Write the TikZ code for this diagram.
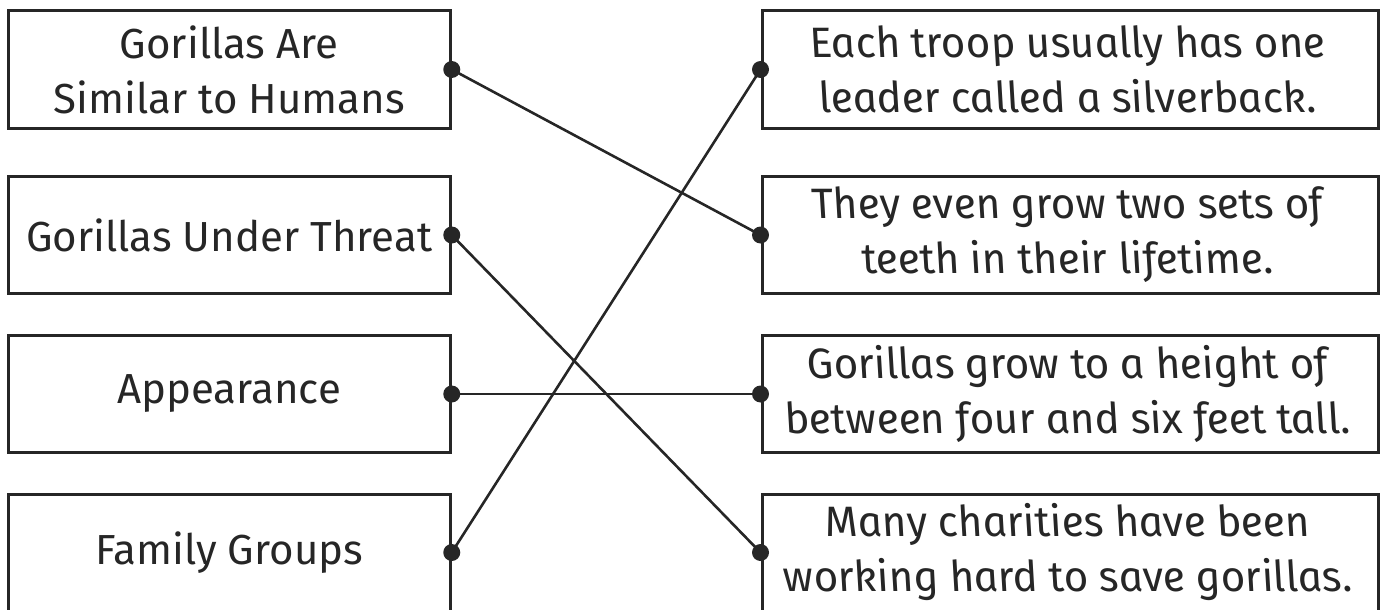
\documentclass[tikz,border=0pt]{standalone}
\usepackage{fontspec}
\setmainfont{Fira Sans}
\newfontfamily\schoolfont[FakeSlant=-0.2]{Fira Sans Italic}
\usepackage{xcolor}
\definecolor{ink}{HTML}{262626}

\tikzset{
	topic/.style={draw=ink, line width=3pt, minimum width=442pt, minimum height=117pt,
		inner sep=0pt, align=center, text=ink, font=\fontsize{42}{55}\selectfont},
	fact/.style={topic, minimum width=616pt, font=\schoolfont\fontsize{42.5}{55}\selectfont},
	link/.style={draw=ink, line width=2.6pt},
	dot/.style={fill=ink}
}

\begin{document}
\begin{tikzpicture}[x=1pt, y=-1pt]
				
				\useasboundingbox (0,0) rectangle (1387,610);
				
				% Headings on the left
				\node[topic] (L1) at (229.25,69.5) {Gorillas Are\\Similar to Humans};
				\node[topic] (L2) at (229.25,235) {Gorillas Under Threat};
				\node[topic] (L3) at (229.25,394) {Appearance};
				\node[topic] (L4) at (229.25,552.5) {Family Groups};
				
				% Facts on the right
				\node[fact] (R1) at (1070,69.5) {Each troop usually has one\\leader called a silverback.};
				\node[fact] (R2) at (1070,235) {They even grow two sets of\\teeth in their lifetime.};
				\node[fact] (R3) at (1070,394) {Gorillas grow to a height of\\between four and six feet tall.};
				\node[fact] (R4) at (1070,552.5) {Many charities have been\\working hard to save gorillas.};
				
				% Matching lines
				\draw[link] (L1.east) -- (R2.west);
				\draw[link] (L2.east) -- (R4.west);
				\draw[link] (L3.east) -- (R3.west);
				\draw[link] (L4.east) -- (R1.west);
				
				% Dots at the ends
				\foreach \n in {L1,L2,L3,L4}
					\fill[dot] (\n.east) circle (8.5pt);
				\foreach \n in {R1,R2,R3,R4}
					\fill[dot] (\n.west) circle (8.5pt);
				
			\end{tikzpicture}
\end{document}
